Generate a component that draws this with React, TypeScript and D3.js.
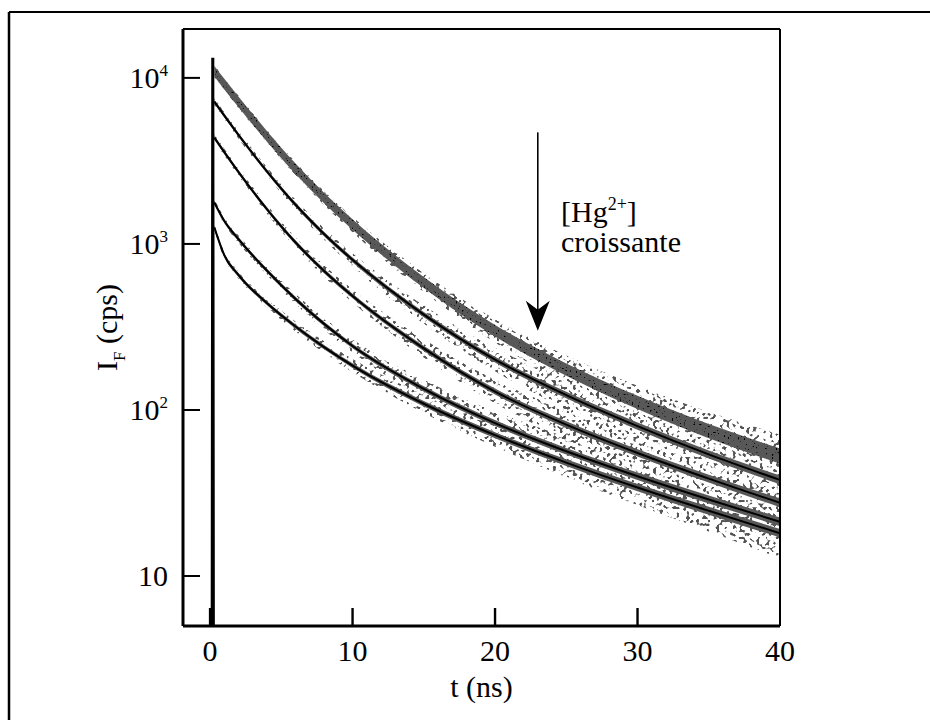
import React from "react";
import * as d3 from "d3";

const times = [0.3, 1, 2, 4, 6, 8, 10, 15, 20, 25, 30, 35, 40];

// fluorescence intensity (cps), from low to high [Hg2+]
const decay0 = [10965, 9180, 7160, 4436, 2838, 1892, 1309, 585, 300, 175, 111, 74.5, 52.7];
const decay1 = [7194, 5929, 4529, 2729, 1722, 1148, 802, 375, 201, 123, 80, 54, 37.9];
const decay2 = [4365, 3570, 2707, 1616, 1020, 687, 486, 235, 129, 81.6, 55.1, 38.6, 27.6];
const decay3 = [1778, 1374, 1067, 689, 466, 330, 243, 134, 83.4, 56.4, 39.9, 28.9, 21.2];
const decay4 = [1259, 855, 649, 439, 318, 239, 185, 109, 70.5, 48.2, 34.1, 24.7, 18.1];

// scatter of the raw counts around each curve (half-width, decades)
const topCore = [0.032, 0.032, 0.032, 0.032, 0.032, 0.032, 0.032, 0.033, 0.035, 0.037, 0.04, 0.043, 0.046];
const topOuter = [0.036, 0.036, 0.037, 0.038, 0.04, 0.042, 0.046, 0.056, 0.07, 0.085, 0.1, 0.115, 0.13];
const core = [0.012, 0.012, 0.012, 0.012, 0.013, 0.013, 0.014, 0.016, 0.018, 0.02, 0.022, 0.024, 0.026];
const outer = [0.02, 0.02, 0.022, 0.026, 0.03, 0.035, 0.04, 0.055, 0.07, 0.088, 0.105, 0.125, 0.15];

// instrument response (prompt)
const irfTimes = [0.12, 0.16, 0.22, 0.26];
const irfValues = [5, 13000, 13000, 5];

const xTicks = [0, 10, 20, 30, 40];
const yTicks = [10, 100, 1000, 10000];

// annotation arrow: t position and counts range
const arrowT = 23;
const arrowFrom = 4700;
const arrowTo = 300;

const W = 930;
const H = 720;
const left = 183;
const right = 780;
const top = 29;
const bottom = 626;
const font = "'Liberation Serif', 'Times New Roman', serif";

export default function App() {
  const x = d3.scaleLinear().domain([-1.9, 40]).range([left, right]);
  const y = d3.scaleLog().domain([5, 19700]).range([bottom, top]);

  const line = d3
    .line<number>()
    .x((_, i) => x(times[i]))
    .y((v) => y(v))
    .curve(d3.curveMonotoneX);

  const band = (spread: number[]) =>
    d3
      .area<number>()
      .x((_, i) => x(times[i]))
      .y0((v, i) => y(v / Math.pow(10, spread[i])))
      .y1((v, i) => y(v * Math.pow(10, spread[i])))
      .curve(d3.curveMonotoneX);

  const irfLine = d3
    .line<number>()
    .x((_, i) => x(irfTimes[i]))
    .y((v) => y(Math.max(v, 5)));

  const others = [decay1, decay2, decay3, decay4];

  const ax = x(arrowT);
  const ay0 = y(arrowFrom);
  const ay1 = y(arrowTo);

  return (
    <svg
      width={W}
      height={H}
      style={{ position: "absolute", left: 0, top: 0, background: "#fff" }}
      fontFamily={font}
    >
      <defs>
        <clipPath id="plot">
          <rect x={left} y={top} width={right - left} height={bottom - top} />
        </clipPath>
        <filter id="speckle" filterUnits="userSpaceOnUse" x={0} y={0} width={W} height={H}>
          <feTurbulence type="fractalNoise" baseFrequency="0.3" numOctaves={1} seed={7} result="n" />
          <feColorMatrix
            in="n"
            type="matrix"
            values="0 0 0 0 0  0 0 0 0 0  0 0 0 0 0  14 0 0 0 -7.8"
            result="m"
          />
          <feComposite in="SourceGraphic" in2="m" operator="in" />
        </filter>
        <filter id="dots" filterUnits="userSpaceOnUse" x={0} y={0} width={W} height={H}>
          <feTurbulence type="fractalNoise" baseFrequency="0.5" numOctaves={1} seed={3} result="n" />
          <feColorMatrix
            in="n"
            type="matrix"
            values="0 0 0 0 0  0 0 0 0 0  0 0 0 0 0  16 0 0 0 -10.8"
            result="m"
          />
          <feComposite in="SourceGraphic" in2="m" operator="in" />
        </filter>
      </defs>

      {/* page frame */}
      <line x1={9} y1={12} x2={W} y2={12} stroke="#000" strokeWidth={2.2} />
      <line x1={9} y1={12} x2={9} y2={H} stroke="#000" strokeWidth={2.5} />

      <g clipPath="url(#plot)">
        {/* speckled outer scatter */}
        <g filter="url(#speckle)" fill="#555">
          <path d={band(topOuter)(decay0) ?? ""} />
          {others.map((d, k) => (
            <path key={k} d={band(outer)(d) ?? ""} />
          ))}
        </g>
        {/* dense core of the data */}
        <g fill="#585858">
          <path d={band(topCore)(decay0) ?? ""} />
          {others.map((d, k) => (
            <path key={k} d={band(core)(d) ?? ""} />
          ))}
        </g>
        {/* black points scattered inside the top band */}
        <g filter="url(#dots)" fill="#000">
          <path d={band(topCore)(decay0) ?? ""} />
        </g>
        {/* fitted curves */}
        {others.map((d, k) => (
          <path key={k} d={line(d) ?? ""} fill="none" stroke="#000" strokeWidth={2} />
        ))}
        <path d={irfLine(irfValues) ?? ""} fill="none" stroke="#000" strokeWidth={2.2} />
      </g>

      {/* ticks */}
      {xTicks.slice(0, -1).map((t) => (
        <line key={t} x1={x(t)} x2={x(t)} y1={bottom} y2={bottom - 18} stroke="#000" strokeWidth={2.4} />
      ))}
      {yTicks.map((v) => (
        <line key={v} x1={left} x2={left + 17} y1={y(v)} y2={y(v)} stroke="#000" strokeWidth={2} />
      ))}

      {/* plot box */}
      <line x1={left} x2={left} y1={top} y2={bottom} stroke="#000" strokeWidth={3} />
      <line x1={left} x2={right} y1={bottom} y2={bottom} stroke="#000" strokeWidth={3} />
      <line x1={left} x2={right} y1={top} y2={top} stroke="#000" strokeWidth={2} />
      <line x1={right} x2={right} y1={top} y2={bottom} stroke="#000" strokeWidth={2} />

      {/* tick labels */}
      {xTicks.map((t) => (
        <text key={t} x={x(t)} y={661} fontSize={30} textAnchor="middle" fill="#000">
          {t}
        </text>
      ))}
      {yTicks.map((v) => {
        const e = Math.round(Math.log10(v));
        return (
          <text key={v} x={168} y={y(v) + 10} fontSize={30} textAnchor="end" fill="#000">
            10
            {e > 1 && (
              <tspan dy={-12} fontSize={17}>
                {e}
              </tspan>
            )}
          </text>
        );
      })}

      {/* axis titles */}
      <text x={(left + right) / 2} y={697} fontSize={30} textAnchor="middle" fill="#000">
        t (ns)
      </text>
      <text
        transform={`translate(117,${(top + bottom) / 2}) rotate(-90)`}
        fontSize={30}
        textAnchor="middle"
        fill="#000"
      >
        I
        <tspan dy={8} fontSize={17}>
          F
        </tspan>
        <tspan dy={-8}> (cps)</tspan>
      </text>

      {/* annotation */}
      <line x1={ax} x2={ax} y1={ay0} y2={ay1 - 10} stroke="#000" strokeWidth={1.6} />
      <path
        d={`M${ax},${ay1} L${ax - 12},${ay1 - 30} L${ax},${ay1 - 21} L${ax + 12},${ay1 - 30} Z`}
        fill="#000"
      />
      <text x={561} y={222} fontSize={30} fill="#000">
        [Hg
        <tspan dy={-12} fontSize={18}>
          2+
        </tspan>
        <tspan dy={12}>]</tspan>
      </text>
      <text x={561} y={252} fontSize={30} fill="#000">
        croissante
      </text>
    </svg>
  );
}
